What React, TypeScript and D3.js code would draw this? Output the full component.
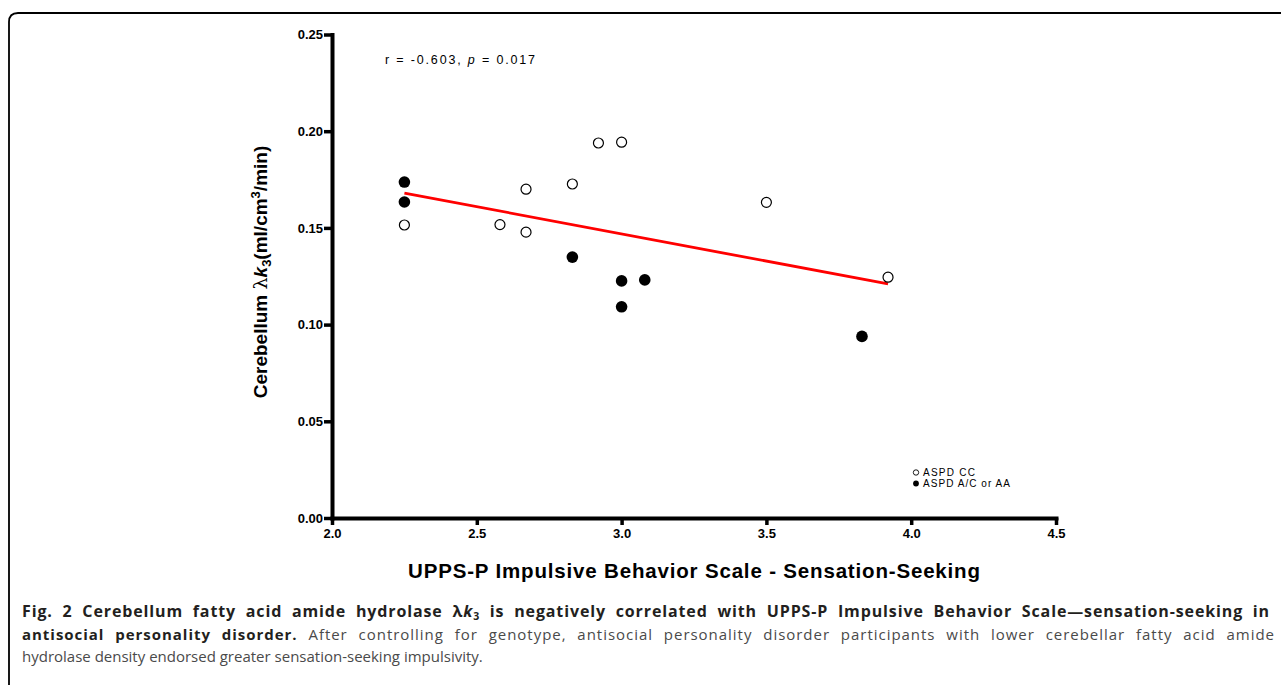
import { axisBottom, axisLeft, format, scaleLinear, select } from "d3"
import { useEffect, useRef } from "react"

// tick values
const xTicks = [2.0, 2.5, 3.0, 3.5, 4.0, 4.5]
const yTicks = [0, 0.05, 0.1, 0.15, 0.2, 0.25]

// ASPD CC (open circles)
const ccX = [2.25, 2.58, 2.67, 2.67, 2.83, 2.92, 3.0, 3.5, 3.92]
const ccY = [0.1515, 0.1517, 0.17, 0.1478, 0.1727, 0.1939, 0.1943, 0.1632, 0.1245]

// ASPD A/C or AA (filled circles)
const acX = [2.25, 2.25, 2.83, 3.0, 3.0, 3.08, 3.83]
const acY = [0.1737, 0.1634, 0.1349, 0.1226, 0.1092, 0.1231, 0.0939]

// regression line ends
const fitX = [2.25, 3.92]
const fitY = [0.168, 0.121]

const legendLabels = ["ASPD CC", "ASPD A/C or AA"]

const W = 1281
const H = 685
const axisFont = "'Liberation Sans', Arial, sans-serif"
const capFont = "'Open Sans', sans-serif"

const App = () => {
    const ref = useRef<SVGSVGElement>(null)

    const x = scaleLinear().domain([2, 4.5]).range([332, 1056])
    const y = scaleLinear().domain([0, 0.25]).range([518, 34.5])

    useEffect(() => {
        const svg = select(ref.current)
        const fmtX = format(".1f")
        const fmtY = format(".2f")

        svg.select<SVGGElement>(".xaxis")
            .attr("transform", `translate(0,${y(0)})`)
            .call(axisBottom(x).tickValues(xTicks).tickFormat(d => fmtX(d as number)).tickSize(7).tickSizeOuter(0).tickPadding(4))
        svg.select<SVGGElement>(".yaxis")
            .attr("transform", `translate(${x(2)},0)`)
            .call(axisLeft(y).tickValues(yTicks).tickFormat(d => fmtY(d as number)).tickSize(8).tickSizeOuter(0).tickPadding(1))

        svg.selectAll(".xaxis, .yaxis")
            .attr("font-size", 13)
            .attr("font-family", axisFont)
            .attr("font-weight", "bold")
        svg.selectAll("path.domain")
            .attr("stroke", "#000")
            .attr("stroke-width", 4)
            .attr("stroke-linecap", "square")
        svg.selectAll(".tick line")
            .attr("stroke", "#000")
            .attr("stroke-width", 3.5)
        svg.selectAll(".tick text").attr("fill", "#000")

        // justify caption lines with word and letter spacing
        svg.selectAll<SVGTextElement, unknown>("text.justify").each(function () {
            const t = select(this)
            const target = +(this.getAttribute("data-w") || 0)
            const natural = this.getComputedTextLength()
            const txt = this.textContent || ""
            const spaces = (txt.match(/ /g) || []).length
            const extra = target - natural
            if (extra > 0 && spaces > 0) {
                t.style("letter-spacing", `${(extra * 0.6) / txt.length}px`)
                t.style("word-spacing", `${(extra * 0.4) / spaces}px`)
            }
        })
    }, [])

    return (
        <svg ref={ref} width={W} height={H} style={{ position: "absolute", left: 0, top: 0, background: "#fff" }}>
            <rect width={W} height={H} fill="#fff" />
            <path d="M 9 700 L 9 22 Q 9 13 18 13 L 1290 13" fill="none" stroke="#000" strokeWidth={1.8} />

            <g className="xaxis"></g>
            <g className="yaxis"></g>

            <line x1={x(fitX[0])} y1={y(fitY[0])} x2={x(fitX[1])} y2={y(fitY[1])} stroke="#ff0000" strokeWidth={2.8} />

            <g className="cc">
                {ccX.map((v, i) => (
                    <circle key={i} cx={x(v)} cy={y(ccY[i])} r={5} fill="#fff" stroke="#000" strokeWidth={1.2} />
                ))}
            </g>
            <g className="ac">
                {acX.map((v, i) => (
                    <circle key={i} cx={x(v)} cy={y(acY[i])} r={5.8} fill="#000" />
                ))}
            </g>

            <text x={385} y={64} fontFamily={axisFont} fontSize={12.5} textLength={150} lengthAdjust="spacing">
                r = -0.603, <tspan fontStyle="italic">p</tspan> = 0.017
            </text>

            <g fontFamily={axisFont} fontSize={10}>
                <circle cx={916} cy={472.5} r={2.7} fill="#fff" stroke="#000" strokeWidth={0.9} />
                <text x={923} y={476} textLength={52} lengthAdjust="spacing">{legendLabels[0]}</text>
                <circle cx={916} cy={483.5} r={2.9} fill="#000" />
                <text x={923} y={487} textLength={87} lengthAdjust="spacing">{legendLabels[1]}</text>
            </g>

            <text x={694} y={578} textAnchor="middle" fontFamily={axisFont} fontWeight="bold" fontSize={20.5} textLength={572} lengthAdjust="spacing">
                UPPS-P Impulsive Behavior Scale - Sensation-Seeking
            </text>

            <text transform="translate(267,272) rotate(-90)" textAnchor="middle" fontFamily={axisFont} fontWeight="bold" fontSize={19}>
                Cerebellum <tspan fontFamily="'DejaVu Serif', serif" fontWeight="normal">λ</tspan>
                <tspan fontStyle="italic">k</tspan>
                <tspan fontSize={13} dy={4}>3</tspan>
                <tspan dy={-4}>(ml/cm</tspan>
                <tspan fontSize={13} dy={-7}>3</tspan>
                <tspan dy={7}>/min)</tspan>
            </text>

            <g fontFamily={capFont} fontSize={15}>
                <text className="justify" data-w={1248} x={22} y={617} fontWeight="bold" fill="#231f20" fontSize={16}>
                    Fig. 2 Cerebellum fatty acid amide hydrolase λ<tspan fontStyle="italic">k</tspan>
                    <tspan fontSize={10.5} dy={3}>3</tspan>
                    <tspan dy={-3}> is negatively correlated with UPPS-P Impulsive Behavior Scale—sensation-seeking in</tspan>
                </text>
                <text className="justify" data-w={1253} x={22} y={640} fill="#4a4a4a">
                    <tspan fontWeight="bold" fill="#231f20">antisocial personality disorder.</tspan> After controlling for genotype, antisocial personality disorder participants with lower cerebellar fatty acid amide
                </text>
                <text x={22} y={662} fill="#4a4a4a">
                    hydrolase density endorsed greater sensation-seeking impulsivity.
                </text>
            </g>
        </svg>
    )
}

export default App
